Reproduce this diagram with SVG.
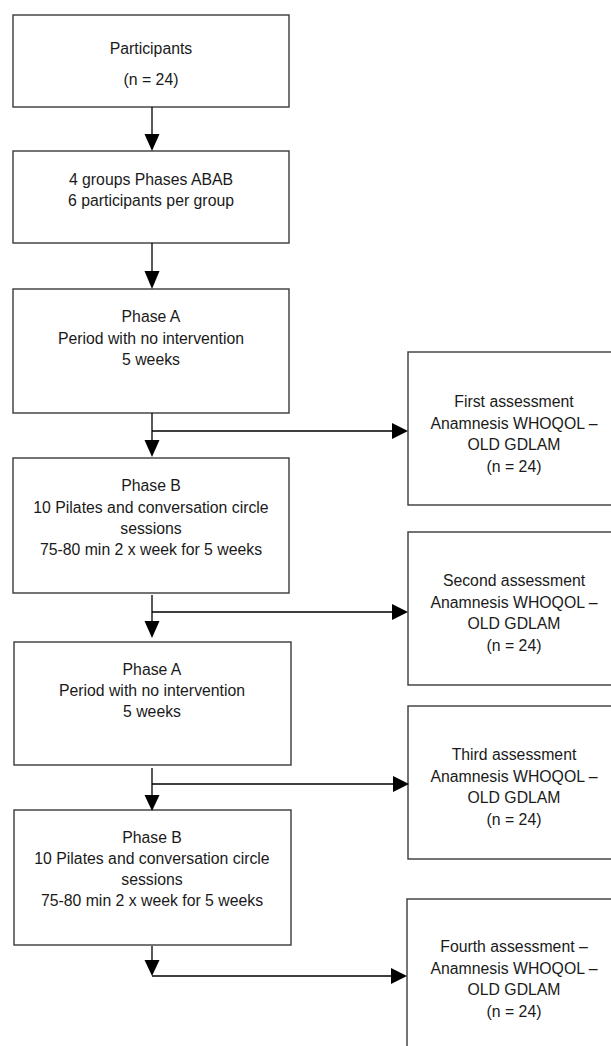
<svg xmlns="http://www.w3.org/2000/svg" width="611" height="1046" viewBox="0 0 611 1046">
<style>
.box{fill:#fff;stroke:#3a3a3a;stroke-width:1.4}
.t{font-family:"Liberation Sans",Arial,sans-serif;font-size:15.8px;fill:#1a1a1a;text-anchor:middle}
.ln{stroke:#000;stroke-width:1.3;fill:none}
.ah{fill:#000}
</style>
<rect width="611" height="1046" fill="#fff"/>
<g id="participants"><rect class="box" x="13" y="15" width="276" height="92"/>
<text class="t" x="151" y="54">Participants</text><text class="t" x="151" y="85">(n = 24)</text></g>
<g id="groups"><rect class="box" x="13" y="151" width="276" height="92"/>
<text class="t" x="151" y="184.5">4 groups Phases ABAB</text><text class="t" x="151" y="206">6 participants per group</text></g>
<g id="phaseA1"><rect class="box" x="13" y="289" width="276" height="124"/>
<text class="t" x="151" y="322.3">Phase A</text><text class="t" x="151" y="343.7">Period with no intervention</text><text class="t" x="151" y="365">5 weeks</text></g>
<g id="phaseB1"><rect class="box" x="13" y="458" width="276" height="135"/>
<text class="t" x="151" y="491.4">Phase B</text><text class="t" x="151" y="512.6">10 Pilates and conversation circle</text><text class="t" x="151" y="533.6">sessions</text><text class="t" x="151" y="554.6">75-80 min 2 x week for 5 weeks</text></g>
<g id="phaseA2"><rect class="box" x="14" y="642" width="277" height="123"/>
<text class="t" x="152" y="675">Phase A</text><text class="t" x="152" y="696">Period with no intervention</text><text class="t" x="152" y="717">5 weeks</text></g>
<g id="phaseB2"><rect class="box" x="14" y="810" width="277" height="135"/>
<text class="t" x="152" y="843">Phase B</text><text class="t" x="152" y="864">10 Pilates and conversation circle</text><text class="t" x="152" y="885">sessions</text><text class="t" x="152" y="906">75-80 min 2 x week for 5 weeks</text></g>
<g id="assess1"><rect class="box" x="408" y="352" width="214" height="153"/>
<text class="t" x="514" y="407">First assessment</text><text class="t" x="514" y="428.5">Anamnesis WHOQOL –</text><text class="t" x="514" y="450">OLD GDLAM</text><text class="t" x="514" y="471.5">(n = 24)</text></g>
<g id="assess2"><rect class="box" x="408" y="532" width="214" height="153"/>
<text class="t" x="514" y="586">Second assessment</text><text class="t" x="514" y="607.5">Anamnesis WHOQOL –</text><text class="t" x="514" y="629">OLD GDLAM</text><text class="t" x="514" y="650.5">(n = 24)</text></g>
<g id="assess3"><rect class="box" x="408" y="706" width="214" height="153"/>
<text class="t" x="514" y="760">Third assessment</text><text class="t" x="514" y="781.5">Anamnesis WHOQOL –</text><text class="t" x="514" y="803">OLD GDLAM</text><text class="t" x="514" y="824.5">(n = 24)</text></g>
<g id="assess4"><rect class="box" x="407" y="899" width="215" height="160"/>
<text class="t" x="514" y="952">Fourth assessment –</text><text class="t" x="514" y="973.5">Anamnesis WHOQOL –</text><text class="t" x="514" y="995">OLD GDLAM</text><text class="t" x="514" y="1016.5">(n = 24)</text></g>
<g id="connectors">
<path class="ln" d="M152 107V134"/><path class="ah" d="M144.5 134H159.5L152 151Z"/>
<path class="ln" d="M152 243V271"/><path class="ah" d="M144.5 271H159.5L152 289Z"/>
<path class="ln" d="M152 413V441M152 431H392"/><path class="ah" d="M144.5 440H159.5L152 457Z"/><path class="ah" d="M392 423V439L408 431Z"/>
<path class="ln" d="M152 595V622M152 612H392"/><path class="ah" d="M144.5 621H159.5L152 638Z"/><path class="ah" d="M392 604V620L408 612Z"/>
<path class="ln" d="M152 768V796M152 784H393"/><path class="ah" d="M144.5 795H159.5L152 811Z"/><path class="ah" d="M393 776V792L409 784Z"/>
<path class="ln" d="M152 946V961M152 976H391"/><path class="ah" d="M144.5 960H159.5L152 976Z"/><path class="ah" d="M391 968V984L407 976Z"/>
</g>
</svg>
